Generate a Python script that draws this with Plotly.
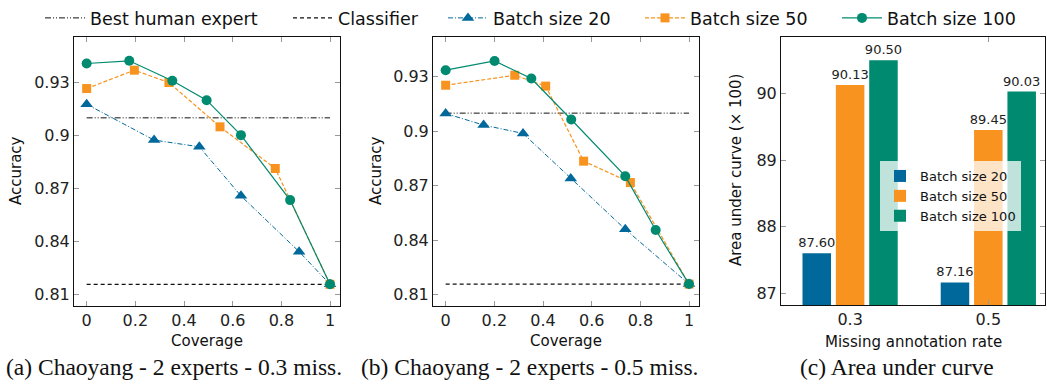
import plotly.graph_objects as go

# ---------------- data ----------------
coverage_ticks = [0, 0.2, 0.4, 0.6, 0.8, 1.0]
coverage_ticktext = ["0", "0.2", "0.4", "0.6", "0.8", "1"]
acc_ticks = [0.81, 0.84, 0.87, 0.90, 0.93]
acc_ticktext = ["0.81", "0.84", "0.87", "0.9", "0.93"]

# (a) 0.3 missing rate
cov_a_20 = [0.0, 0.277, 0.463, 0.634, 0.873, 1.0]
acc_a_20 = [0.9177, 0.8974, 0.8936, 0.8658, 0.8342, 0.8157]
cov_a_50 = [0.0, 0.196, 0.338, 0.548, 0.775, 1.0]
acc_a_50 = [0.9266, 0.9370, 0.9300, 0.9049, 0.8813, 0.8157]
cov_a_100 = [0.0, 0.175, 0.352, 0.493, 0.634, 0.836, 1.0]
acc_a_100 = [0.9408, 0.9423, 0.9310, 0.9200, 0.9002, 0.8634, 0.8157]

# (b) 0.5 missing rate
cov_b_20 = [0.0, 0.156, 0.318, 0.514, 0.738, 1.0]
acc_b_20 = [0.9098, 0.9034, 0.8988, 0.8740, 0.8459, 0.8157]
cov_b_50 = [0.0, 0.284, 0.411, 0.567, 0.759, 1.0]
acc_b_50 = [0.9254, 0.9309, 0.9249, 0.8835, 0.8717, 0.8157]
cov_b_100 = [0.0, 0.201, 0.352, 0.516, 0.738, 0.863, 1.0]
acc_b_100 = [0.9337, 0.9388, 0.9291, 0.9065, 0.8752, 0.8455, 0.8157]

ref_x = [0.0, 1.0]
human_a = 0.910
human_b = 0.910
classifier_a = 0.8157
classifier_b = 0.8157

# (c) area under curve
miss_rates = ["0.3", "0.5"]
auc_20 = [87.60, 87.16]
auc_50 = [90.13, 89.45]
auc_100 = [90.50, 90.03]

# ---------------- styles ----------------
BLUE = "#00689A"
ORANGE = "#F7931E"
GREEN = "#008A6F"
FONT = "DejaVu Sans"
W, H = 1047, 385


def px_x(a, b):
    return [a / W, b / W]


def px_y(top, bottom):
    return [(H - bottom) / H, (H - top) / H]


fig = go.Figure()

# each top legend entry in its own legend box so the spacing matches
legend_names = {"Best human expert": "legend", "Classifier": "legend3", "Batch size 20": "legend4",
                "Batch size 50": "legend5", "Batch size 100": "legend6"}

panels = [
    ("x", "y", cov_a_20, acc_a_20, cov_a_50, acc_a_50, cov_a_100, acc_a_100, human_a, classifier_a, True),
    ("x2", "y2", cov_b_20, acc_b_20, cov_b_50, acc_b_50, cov_b_100, acc_b_100, human_b, classifier_b, False),
]

for xa, ya, c20, a20, c50, a50, c100, a100, hum, cls, show in panels:
    fig.add_trace(go.Scatter(x=ref_x, y=[hum, hum], mode="lines", name="Best human expert",
                             line=dict(color="#111", width=1, dash="6px,2px,1px,2px,1px,2px"),
                             xaxis=xa, yaxis=ya, showlegend=show, legend=legend_names["Best human expert"]))
    fig.add_trace(go.Scatter(x=ref_x, y=[cls, cls], mode="lines", name="Classifier",
                             line=dict(color="#111", width=1.2, dash="4px,3px"),
                             xaxis=xa, yaxis=ya, showlegend=show, legend=legend_names["Classifier"]))
    fig.add_trace(go.Scatter(x=c20, y=a20, mode="lines+markers", name="Batch size 20",
                             line=dict(color=BLUE, width=1, dash="5px,2px,1px,2px"),
                             marker=dict(symbol="triangle-up", size=11, color=BLUE),
                             xaxis=xa, yaxis=ya, showlegend=show, legend=legend_names["Batch size 20"]))
    fig.add_trace(go.Scatter(x=c50, y=a50, mode="lines+markers", name="Batch size 50",
                             line=dict(color=ORANGE, width=1.2, dash="4px,2px"),
                             marker=dict(symbol="square", size=9, color=ORANGE),
                             xaxis=xa, yaxis=ya, showlegend=show, legend=legend_names["Batch size 50"]))
    fig.add_trace(go.Scatter(x=c100, y=a100, mode="lines+markers", name="Batch size 100",
                             line=dict(color=GREEN, width=1.2),
                             marker=dict(symbol="circle", size=10, color=GREEN),
                             xaxis=xa, yaxis=ya, showlegend=show, legend=legend_names["Batch size 100"]))

for vals, name, col in [(auc_20, "Batch size 20", BLUE), (auc_50, "Batch size 50", ORANGE),
                        (auc_100, "Batch size 100", GREEN)]:
    fig.add_trace(go.Bar(x=miss_rates, y=vals, name=name, marker=dict(color=col, line=dict(width=0)),
                         texttemplate="%{y:.2f}", textposition="outside", cliponaxis=False,
                         constraintext="none",
                         textfont=dict(family=FONT, size=13, color="#222"),
                         xaxis="x3", yaxis="y3", legend="legend2"))

axis_common = dict(showgrid=False, zeroline=False, showline=True, linecolor="#111", linewidth=1,
                   mirror="ticks", ticks="inside", ticklen=5, tickwidth=1, tickcolor="#999",
                   tickfont=dict(family=FONT, size=16, color="#222"))

top_legend = dict(orientation="h", y=1.0, xanchor="left", yanchor="top",
                  font=dict(family=FONT, size=17.5, color="#111"), bgcolor="rgba(0,0,0,0)",
                  itemwidth=40, tracegroupgap=0)

fig.update_layout(
    width=W, height=H, autosize=False,
    margin=dict(l=0, r=0, t=0, b=0),
    plot_bgcolor="white", paper_bgcolor="white",
    font=dict(family=FONT, color="#222"),
    barmode="group", bargap=0.276, bargroupgap=0.145,
    xaxis=dict(domain=px_x(74, 340), range=[-0.052, 1.041], tickvals=coverage_ticks,
               ticktext=coverage_ticktext, anchor="y", **axis_common),
    yaxis=dict(domain=px_y(37, 306), range=[0.8034, 0.9558], tickvals=acc_ticks,
               ticktext=acc_ticktext, anchor="x", **axis_common),
    xaxis2=dict(domain=px_x(433, 699), range=[-0.052, 1.041], tickvals=coverage_ticks,
                ticktext=coverage_ticktext, anchor="y2", **axis_common),
    yaxis2=dict(domain=px_y(37, 306), range=[0.8036, 0.952], tickvals=acc_ticks,
                ticktext=acc_ticktext, anchor="x2", **axis_common),
    xaxis3=dict(domain=px_x(781, 1045), range=[-0.5, 1.41], anchor="y3", type="category",
                minor=dict(tickvals=[0.5], ticks="inside", ticklen=5, tickcolor="#999"),
                **{**axis_common, "ticklen": 0}),
    yaxis3=dict(domain=px_y(37, 305), range=[86.82, 90.85], tickvals=[87, 88, 89, 90],
                anchor="x3", **axis_common),
    legend=dict(x=40 / W, **top_legend),
    legend3=dict(x=288 / W, **top_legend),
    legend4=dict(x=443 / W, **top_legend),
    legend5=dict(x=640 / W, **top_legend),
    legend6=dict(x=837 / W, **top_legend),
    legend2=dict(x=880 / W, y=(H - 161) / H, xanchor="left", yanchor="top",
                 font=dict(family=FONT, size=13, color="#111"), bgcolor="rgba(255,255,255,0.75)",
                 itemwidth=30, tracegroupgap=0),
)

annotations = []
for text, xc, yc in [("Coverage", 207, 341), ("Coverage", 566, 341), ("Missing annotation rate", 913, 342)]:
    annotations.append(dict(text=text, x=xc / W, y=(H - yc) / H, xref="paper", yref="paper",
                            showarrow=False, xanchor="center", yanchor="middle",
                            font=dict(family=FONT, size=15, color="#111")))
for text, xc, yc in [("Accuracy", 16, 171), ("Accuracy", 376, 171), ("Area under curve (× 100)", 736, 170)]:
    annotations.append(dict(text=text, x=xc / W, y=(H - yc) / H, xref="paper", yref="paper",
                            showarrow=False, xanchor="center", yanchor="middle", textangle=-90,
                            font=dict(family=FONT, size=15, color="#111")))
for text, xc in [("(a) Chaoyang - 2 experts - 0.3 miss.", 174), ("(b) Chaoyang - 2 experts - 0.5 miss.", 529),
                 ("(c) Area under curve", 897)]:
    annotations.append(dict(text=text, x=xc / W, y=(H - 367) / H, xref="paper", yref="paper",
                            showarrow=False, xanchor="center", yanchor="middle",
                            font=dict(family="Liberation Serif", size=23.5, color="#111")))
fig.update_layout(annotations=annotations)

fig.write_html("out.html", config={"displayModeBar": False},
               post_script="document.body.style.margin='0';document.body.style.overflow='hidden';")
